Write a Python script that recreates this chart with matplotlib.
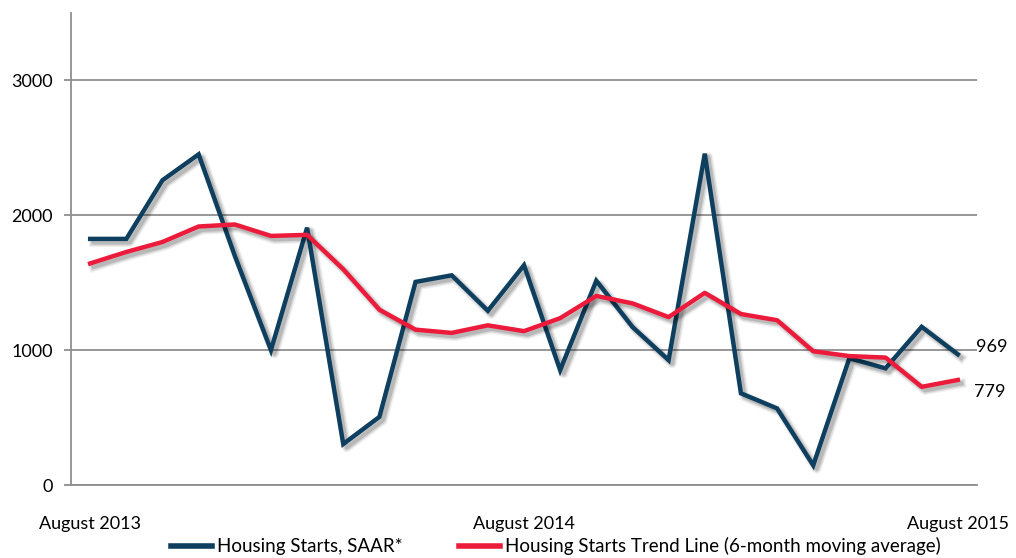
import numpy as np
import matplotlib
matplotlib.use("Agg")
from matplotlib import pyplot as plt
import matplotlib.patheffects as pe

plt.rcParams['font.family'] = ['Lato', 'DejaVu Sans']

# monthly values, August 2013 .. August 2015
starts = [1825, 1825, 2260, 2452, 1700, 1000, 1908, 304, 505, 1506, 1555, 1292, 1630,
          852, 1515, 1172, 926, 2457, 680, 568, 146, 940, 865, 1173, 969]
trend = [1643, 1728, 1802, 1917, 1932, 1847, 1855, 1600, 1300, 1152, 1128, 1184, 1141,
         1237, 1402, 1347, 1245, 1425, 1268, 1222, 992, 956, 945, 728, 779]
tick_pos = [0, 12, 24]
tick_labels = ['August 2013', 'August 2014', 'August 2015']
y_ticks = [0, 1000, 2000, 3000]

blue = '#0e3f5f'
red = '#ec1b3b'
grid = '#8f8f8f'

x = np.arange(len(starts))

fig = plt.figure(figsize=(10.16, 5.58), dpi=100)
ax = fig.add_axes([0.0699, 0.1308, 0.8917, 0.8459])

# soft drop shadow: a few wide, faint layers
shadow = [pe.SimpleLineShadow(offset=(2.5, -2.5), shadow_color='#000000', alpha=0.06,
                              linewidth=7, joinstyle='round'),
          pe.SimpleLineShadow(offset=(2.5, -2.5), shadow_color='#000000', alpha=0.10,
                              linewidth=5, joinstyle='round'),
          pe.SimpleLineShadow(offset=(2.5, -2.5), shadow_color='#000000', alpha=0.14,
                              linewidth=3, joinstyle='round'),
          pe.Normal()]

ax.plot(x, starts, color=blue, lw=3.2, solid_joinstyle='miter',
        label='Housing Starts, SAAR*', path_effects=shadow, zorder=3)
ax.plot(x, trend, color=red, lw=3.2, solid_joinstyle='round',
        label='Housing Starts Trend Line (6-month moving average)', path_effects=shadow, zorder=4)

ax.annotate(str(starts[-1]), (x[-1], starts[-1]), xytext=(13, 5), textcoords='offset points',
            fontsize=13, va='center', ha='left')
ax.annotate(str(trend[-1]), (x[-1], trend[-1]), xytext=(12, -9), textcoords='offset points',
            fontsize=13, va='center', ha='left')

ax.set_xlim(-0.53, len(starts) - 1 + 0.53)
ax.set_ylim(0, 3500)
ax.set_yticks(y_ticks)
ax.set_yticklabels([str(v) for v in y_ticks], fontsize=13)
ax.set_xticks(tick_pos)
ax.set_xticklabels(tick_labels, fontsize=13)
ax.tick_params(axis='x', length=0, pad=22)
ax.tick_params(axis='y', length=5, width=1.3, color=grid, pad=8)

ax.yaxis.grid(True, color=grid, lw=1.3)
ax.set_axisbelow(True)
for s in ['top', 'right']:
    ax.spines[s].set_visible(False)
for s in ['left', 'bottom']:
    ax.spines[s].set_color(grid)
    ax.spines[s].set_linewidth(1.3)

leg = ax.legend(loc='upper center', bbox_to_anchor=(0.535, -0.095), ncol=2, frameon=False,
                fontsize=13.5, handlelength=2.2, handletextpad=0.25, columnspacing=3.0,
                borderaxespad=0)
for h in leg.get_lines():
    h.set_path_effects([])
    h.set_linewidth(4)

fig.savefig('out.png', dpi=100)
